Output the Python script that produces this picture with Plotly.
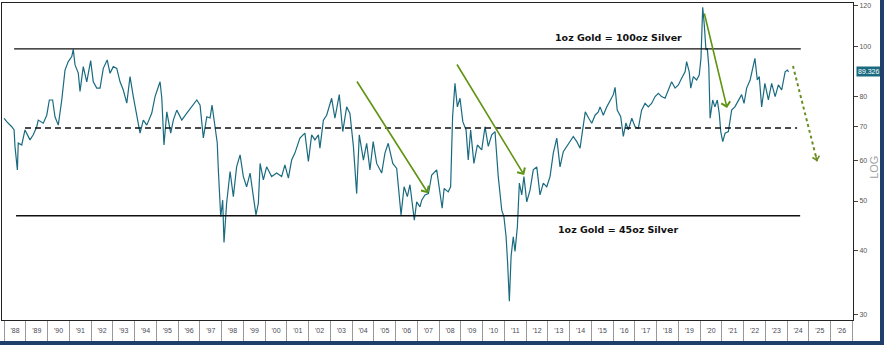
import math
import plotly.graph_objects as go

# ---------------- data ----------------
years = list(range(1988, 2027))
year_labels = ["'" + str(y)[2:] for y in years]
y_ticks = [30, 40, 50, 60, 70, 80, 100, 120]

t = [
    1988.00, 1988.12, 1988.35, 1988.46, 1988.50, 1988.61, 1988.65, 1988.81, 1988.96, 1989.19,
    1989.34, 1989.50, 1989.57, 1989.80, 1989.96, 1990.08, 1990.23, 1990.34, 1990.49, 1990.65,
    1990.80, 1990.95, 1991.11, 1991.18, 1991.26, 1991.41, 1991.49, 1991.64, 1991.80, 1991.98,
    1992.10, 1992.26, 1992.41, 1992.56, 1992.74, 1992.87, 1993.02, 1993.18, 1993.33, 1993.48,
    1993.64, 1993.79, 1993.94, 1994.10, 1994.25, 1994.40, 1994.56, 1994.79, 1994.94, 1995.17,
    1995.25, 1995.35, 1995.48, 1995.66, 1995.78, 1995.94, 1996.17, 1996.40, 1996.63, 1996.86,
    1997.01, 1997.16, 1997.32, 1997.47, 1997.56, 1997.70, 1997.80, 1997.85, 1997.96, 1998.05,
    1998.11, 1998.23, 1998.39, 1998.54, 1998.69, 1998.85, 1999.00, 1999.15, 1999.31, 1999.46,
    1999.58, 1999.69, 1999.77, 1999.92, 2000.07, 2000.30, 2000.53, 2000.76, 2000.91, 2001.07,
    2001.22, 2001.37, 2001.60, 2001.83, 2001.99, 2002.14, 2002.29, 2002.45, 2002.52, 2002.68,
    2002.83, 2003.06, 2003.21, 2003.41, 2003.57, 2003.75, 2003.90, 2004.06, 2004.21, 2004.33,
    2004.52, 2004.67, 2004.82, 2004.97, 2005.13, 2005.36, 2005.51, 2005.66, 2005.87, 2006.05,
    2006.12, 2006.25, 2006.39, 2006.54, 2006.66, 2006.77, 2006.86, 2006.97, 2007.12, 2007.20,
    2007.35, 2007.51, 2007.66, 2007.89, 2008.01, 2008.14, 2008.23, 2008.42, 2008.53, 2008.62,
    2008.73, 2008.84, 2008.96, 2009.09, 2009.24, 2009.34, 2009.45, 2009.60, 2009.76, 2009.96,
    2010.11, 2010.26, 2010.42, 2010.57, 2010.72, 2010.88, 2010.98, 2011.08, 2011.15, 2011.23,
    2011.31, 2011.41, 2011.49, 2011.60, 2011.69, 2011.80, 2011.90, 2012.03, 2012.18, 2012.33,
    2012.49, 2012.64, 2012.79, 2012.95, 2013.10, 2013.25, 2013.41, 2013.56, 2013.71, 2013.87,
    2014.02, 2014.17, 2014.33, 2014.48, 2014.60, 2014.72, 2014.88, 2015.02, 2015.17, 2015.32,
    2015.40, 2015.55, 2015.71, 2015.86, 2016.01, 2016.09, 2016.19, 2016.35, 2016.47, 2016.59,
    2016.70, 2016.86, 2017.01, 2017.16, 2017.31, 2017.47, 2017.62, 2017.77, 2017.93, 2018.08,
    2018.23, 2018.39, 2018.54, 2018.69, 2018.85, 2019.00, 2019.15, 2019.31, 2019.38, 2019.50,
    2019.57, 2019.69, 2019.84, 2019.96, 2020.04, 2020.12, 2020.19, 2020.27, 2020.33, 2020.40,
    2020.46, 2020.58, 2020.68, 2020.79, 2020.88, 2020.95, 2021.04, 2021.15, 2021.30, 2021.45,
    2021.60, 2021.76, 2021.91, 2022.02, 2022.14, 2022.30, 2022.42, 2022.52, 2022.63, 2022.72,
    2022.83, 2022.98, 2023.14, 2023.29, 2023.45, 2023.60, 2023.75, 2023.91, 2024.01, 2024.07,
]

ratio = [
    72.5, 71.4, 69.8, 68.8, 63.9, 57.5, 64.9, 64.3, 68.8, 65.8,
    67.3, 69.8, 71.9, 70.9, 73.5, 78.7, 78.7, 73.0, 70.3, 78.7,
    90.0, 93.5, 95.6, 98.8, 92.1, 88.8, 81.8, 91.4, 85.4, 93.9,
    85.4, 83.0, 83.0, 90.7, 94.2, 88.7, 91.4, 90.7, 85.4, 82.3,
    77.6, 87.4, 79.9, 73.5, 67.8, 71.9, 70.3, 74.2, 79.9, 85.4,
    79.4, 64.3, 74.6, 67.8, 71.9, 75.2, 71.9, 74.2, 76.3, 78.7,
    76.9, 66.4, 73.0, 72.6, 76.9, 69.8, 64.9, 57.5, 46.6, 50.2,
    41.5, 49.5, 57.1, 51.0, 58.3, 61.5, 55.8, 53.3, 56.7, 51.0,
    47.0, 49.5, 59.2, 55.0, 58.3, 55.8, 56.7, 55.8, 58.8, 55.4,
    60.1, 62.0, 66.3, 67.8, 59.7, 67.3, 65.8, 67.3, 63.4, 71.9,
    73.5, 79.3, 72.5, 80.6, 68.3, 76.3, 74.1, 63.9, 51.7, 67.3,
    60.1, 64.8, 57.5, 65.3, 59.2, 56.7, 62.0, 64.8, 59.2, 57.9,
    53.3, 47.0, 53.3, 51.0, 53.8, 49.5, 45.9, 49.8, 48.7, 50.2,
    51.4, 51.7, 56.2, 57.5, 53.3, 48.4, 52.9, 52.1, 53.3, 73.0,
    84.8, 76.3, 79.3, 71.4, 68.8, 60.1, 68.8, 59.2, 64.3, 62.9,
    69.8, 63.9, 67.3, 68.3, 55.8, 48.0, 46.6, 42.6, 37.9, 31.9,
    39.0, 42.6, 39.9, 44.6, 54.2, 51.4, 55.8, 49.8, 52.5, 57.5,
    58.3, 51.4, 54.2, 53.3, 55.8, 62.0, 66.3, 58.3, 62.4, 63.9,
    65.3, 66.8, 65.3, 63.4, 68.8, 74.6, 72.5, 70.9, 73.5, 74.6,
    76.3, 73.5, 76.3, 78.7, 80.6, 83.3, 75.2, 73.0, 66.8, 71.0,
    68.8, 72.5, 69.8, 69.3, 75.2, 77.5, 76.3, 77.5, 79.9, 81.1,
    79.9, 79.3, 82.3, 85.4, 83.0, 84.2, 86.8, 89.3, 93.5, 89.3,
    83.0, 87.4, 86.1, 88.0, 94.9, 119.3, 110.6, 98.5, 99.2, 91.5,
    72.5, 78.7, 76.3, 78.7, 74.1, 68.3, 65.3, 67.8, 68.3, 75.2,
    76.3, 78.7, 80.6, 77.5, 83.0, 86.1, 90.7, 94.9, 86.1, 87.4,
    76.3, 84.8, 78.7, 84.8, 79.9, 84.2, 82.3, 89.3, 90.0, 89.326,
]

last_value = 89.326

# horizontal reference levels: (value, start, end)
upper_level = (99.0, 1988.46, 2024.63)
mid_level = (69.4, 1988.96, 2024.46)
lower_level = (46.8, 1988.55, 2024.60)

upper_text = "1oz Gold = 100oz Silver"
lower_text = "1oz Gold = 45oz Silver"
upper_text_pos = (2016.23, 104.4)
lower_text_pos = (2016.27, 44.1)

# green trend arrows: (t_start, v_start, t_end, v_end)
trend_arrows = [
    (2004.18, 86.1, 2007.49, 51.8),
    (2008.78, 92.9, 2011.91, 56.2),
    (2020.18, 116.8, 2021.24, 75.9),
]
forecast_arrow = (2024.27, 91.7, 2025.38, 59.8)

# ---------------- styling ----------------
TEAL = "#1a6b80"
GREEN = "#5e9410"
FRAME = "#222222"
NAVY = "#1f3f6a"

x_range = [1987.903, 2027.03]
y_range = [1.4671, 2.0850]

fig = go.Figure()

fig.add_trace(go.Scatter(x=t, y=ratio, mode="lines",
                         line=dict(color=TEAL, width=1.2), hoverinfo="skip"))

for (lvl, a, b), dash, w in [(upper_level, "solid", 1.4),
                             (lower_level, "solid", 1.4),
                             (mid_level, "6px,4px", 1.5)]:
    fig.add_trace(go.Scatter(x=[a, b], y=[lvl, lvl], mode="lines",
                             line=dict(color="#111111", width=w, dash=dash),
                             hoverinfo="skip"))

# dotted forecast arrow body
ft0, fv0, ft1, fv1 = forecast_arrow
fig.add_trace(go.Scatter(x=[ft0, ft1], y=[fv0, fv1], mode="lines",
                         line=dict(color="#6b8e23", width=2, dash="dot"),
                         hoverinfo="skip"))

annotations = []
for t0, v0, t1, v1 in trend_arrows:
    annotations.append(dict(
        x=t1, y=math.log10(v1), ax=t0, ay=math.log10(v0),
        xref="x", yref="y", axref="x", ayref="y",
        text="", showarrow=True, arrowhead=4, arrowsize=1.1,
        arrowwidth=1.6, arrowcolor=GREEN, standoff=0, startstandoff=0))

# arrowhead for the dotted forecast arrow
annotations.append(dict(
    x=ft1, y=math.log10(fv1),
    ax=ft1 - (ft1 - ft0) * 0.08,
    ay=math.log10(fv1) - (math.log10(fv1) - math.log10(fv0)) * 0.08,
    xref="x", yref="y", axref="x", ayref="y",
    text="", showarrow=True, arrowhead=4, arrowsize=1.0,
    arrowwidth=1.4, arrowcolor="#6b8e23"))

for txt, (tx, ty) in [(upper_text, upper_text_pos), (lower_text, lower_text_pos)]:
    annotations.append(dict(
        x=tx, y=math.log10(ty), xref="x", yref="y", showarrow=False,
        text="<b>" + txt + "</b>",
        font=dict(family="DejaVu Sans", size=9.5, color="#111111")))

annotations.append(dict(
    x=1.0, xref="paper", xanchor="left", xshift=3,
    y=math.log10(last_value), yref="y", yanchor="middle",
    text=f"{last_value:.3f}", showarrow=False,
    bgcolor=TEAL, borderpad=1,
    font=dict(family="Liberation Sans", size=7, color="white")))

annotations.append(dict(
    x=1.0, xref="paper", xanchor="left", xshift=13,
    y=0.48, yref="paper", yanchor="middle",
    text="LOG", showarrow=False, textangle=-90,
    font=dict(family="Liberation Sans", size=11, color="#a0a0a0")))

fig.update_layout(
    width=880, height=341,
    margin=dict(l=2, r=27, t=3, b=21),
    paper_bgcolor="white", plot_bgcolor="white",
    showlegend=False,
    annotations=annotations,
    xaxis=dict(
        range=x_range, showgrid=False, zeroline=False,
        tickmode="array", tickvals=[y + 0.5 for y in years], ticktext=year_labels,
        ticks="", tickfont=dict(family="Liberation Sans", size=7, color="#4a4a55"),
        ticklabelstandoff=4,
        showline=True, linecolor=FRAME, linewidth=1, mirror=True,
        minor=dict(tickmode="linear", tick0=1988, dtick=1, ticks="outside",
                   ticklen=21, tickwidth=1, tickcolor="#999999", showgrid=False),
    ),
    yaxis=dict(
        type="log", range=y_range, side="right", showgrid=False, zeroline=False,
        tickmode="array", tickvals=y_ticks, ticktext=[str(v) for v in y_ticks],
        ticks="outside", ticklen=4, tickcolor="#444444",
        tickfont=dict(family="Liberation Sans", size=7, color="#555555"),
        showline=True, linecolor=FRAME, linewidth=1, mirror=True,
    ),
)

# navy page frame visible on the right and bottom edges of the window
page_bg = ("document.documentElement.style.backgroundColor='%s';"
           "document.body.style.backgroundColor='%s';" % (NAVY, NAVY))

fig.write_html("out.html", post_script=page_bg)
